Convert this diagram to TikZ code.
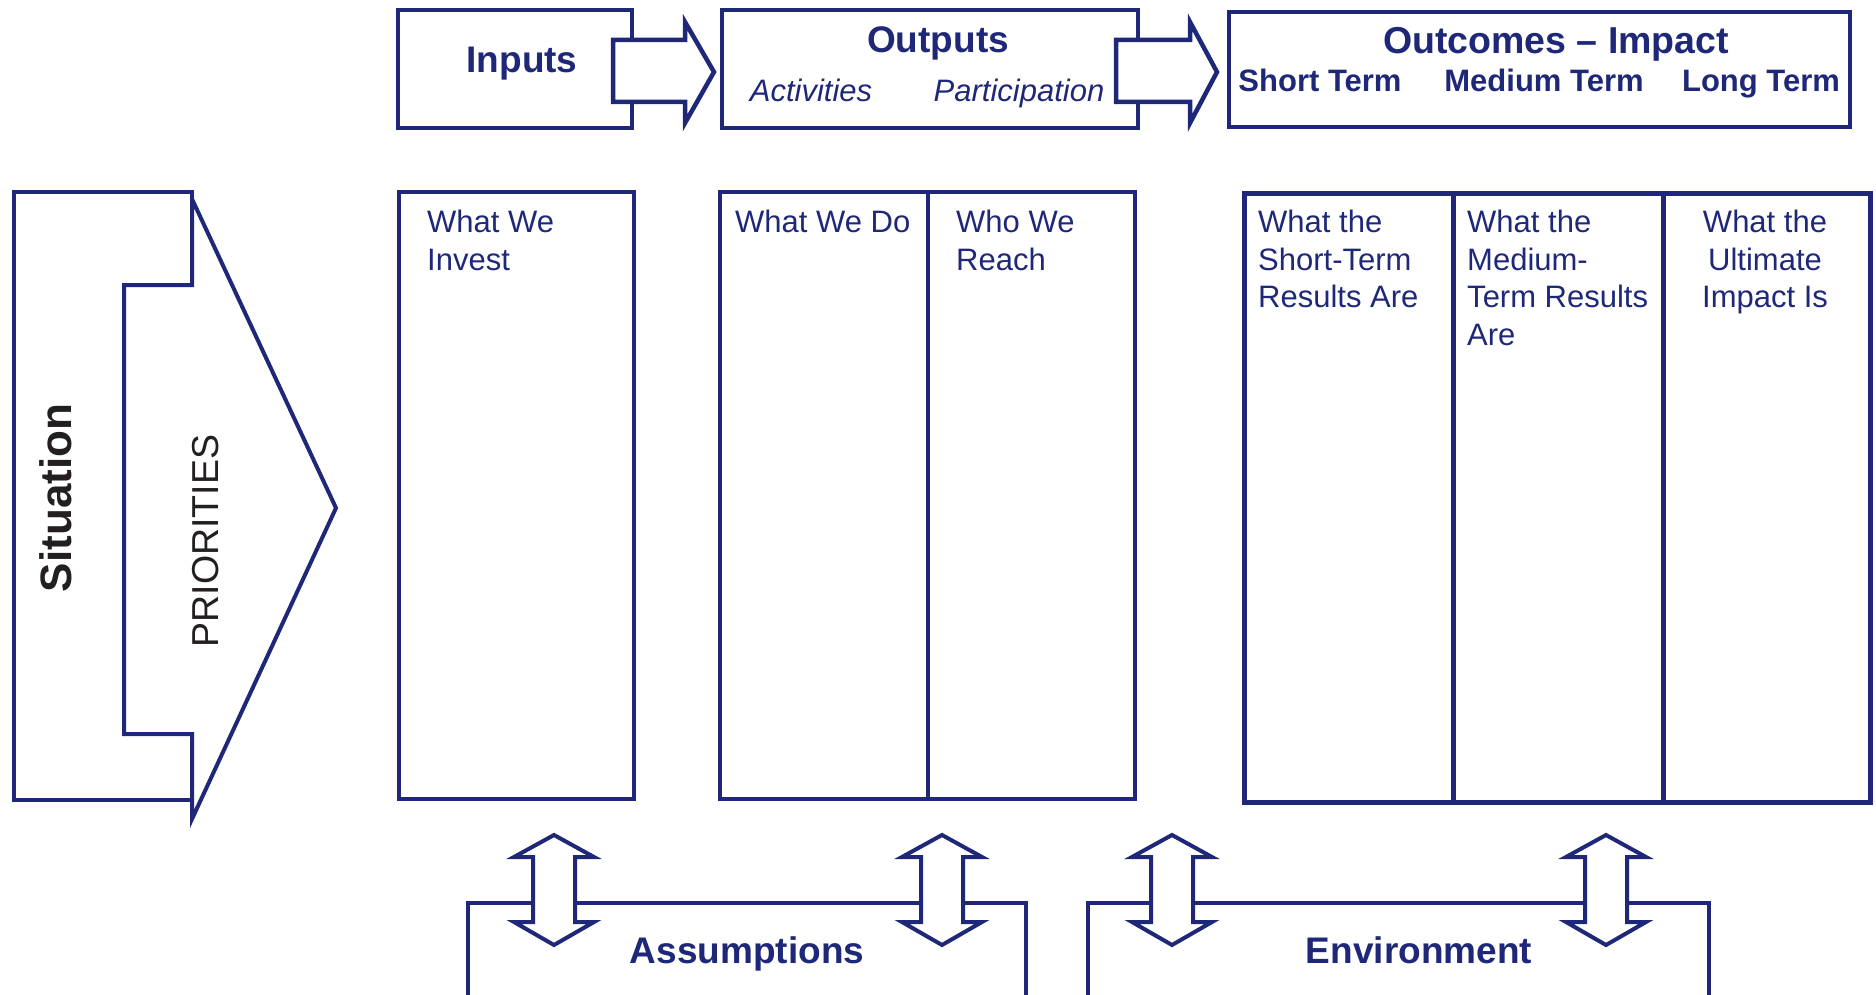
\documentclass[tikz,border=0pt]{standalone}
\usepackage{fontspec}
\setmainfont{Liberation Sans}
\definecolor{navy}{RGB}{31,40,120}
\definecolor{ink}{RGB}{35,31,32}
\begin{document}
\begin{tikzpicture}[x=1pt,y=-1pt,
  hdr/.style={draw=navy, line width=4.5pt, line join=miter},
  col/.style={draw=navy, line width=4.2pt},
  colb/.style={draw=navy, line width=5pt},
  shp/.style={draw=navy, line width=4pt, fill=white, line join=miter},
  headbig/.style={text=navy, inner sep=0pt, font=\fontsize{37}{44}\selectfont\bfseries},
  headmid/.style={text=navy, inner sep=0pt, font=\fontsize{37.5}{44}\selectfont\bfseries},
  headsub/.style={text=navy, inner sep=0pt, font=\fontsize{31}{37}\selectfont\bfseries},
  headit/.style={text=navy, inner sep=0pt, font=\fontsize{31}{37}\selectfont\itshape},
  body/.style={text=navy, inner sep=0pt, font=\fontsize{31}{37.5}\selectfont},
  sidebold/.style={text=ink, inner sep=0pt, rotate=90, font=\fontsize{44}{52}\selectfont\bfseries},
  sidereg/.style={text=ink, inner sep=0pt, rotate=90, font=\fontsize{37.5}{45}\selectfont}
]
\useasboundingbox (0,0) rectangle (1876,995);

% top header boxes
\draw[hdr] (398,10) rectangle (632,128);
\draw[hdr] (722,10) rectangle (1138,128);
\draw[hdr] (1229,12) rectangle (1850,127);
% header arrows
\draw[hdr, fill=white] (613,40) -- (685,40) -- (685,22) -- (714,72) -- (685,123) -- (685,102) -- (613,102) -- cycle;
\draw[hdr, fill=white] (1116,40) -- (1190,40) -- (1190,22) -- (1217,72) -- (1190,123) -- (1190,102) -- (1116,102) -- cycle;

\node[headbig, anchor=base] (inputs) at (522,73) {Inputs};
\node[headbig, anchor=base] (outputs) at (938,53) {Outputs};
\node[headit, anchor=base] (activities) at (811,102) {Activities};
\node[headit, anchor=base] (participation) at (1019,102) {Participation};
\node[headmid, anchor=base] (outcomes) at (1556,54) {Outcomes -- Impact};
\node[headsub, anchor=base] (shortterm) at (1320,92) {Short Term};
\node[headsub, anchor=base] (mediumterm) at (1544,92) {Medium Term};
\node[headsub, anchor=base] (longterm) at (1761,92) {Long Term};

% situation / priorities
\draw[shp] (14,192) -- (192,192) -- (192,285) -- (124,285) -- (124,734) -- (192,734) -- (192,800) -- (14,800) -- cycle;
\draw[shp] (192,199) -- (336,508) -- (192,819) -- (192,734) -- (124,734) -- (124,285) -- (192,285) -- cycle;
\node[sidebold, anchor=base] (situation) at (71,498) {Situation};
\node[sidereg, anchor=base] (priorities) at (218,541) {PRIORITIES};

% columns
\draw[col] (399,192) rectangle (634,799);
\draw[col] (720,192) rectangle (1135,799);
\draw[col] (928,192) -- (928,799);
\draw[colb] (1244,194) rectangle (1870,802);
\draw[colb] (1453,194) -- (1453,802);
\draw[colb] (1663,194) -- (1663,802);

\node[body, anchor=base west] (invest) at (427,233) {\begin{tabular}[t]{@{}l@{}}What We\\Invest\end{tabular}};
\node[body, anchor=base west] (whatwedo) at (735,233) {\begin{tabular}[t]{@{}l@{}}What We Do\end{tabular}};
\node[body, anchor=base west] (reach) at (956,233) {\begin{tabular}[t]{@{}l@{}}Who We\\Reach\end{tabular}};
\node[body, anchor=base west] (shortres) at (1258,233) {\begin{tabular}[t]{@{}l@{}}What the\\Short-Term\\Results Are\end{tabular}};
\node[body, anchor=base west] (medres) at (1467,233) {\begin{tabular}[t]{@{}l@{}}What the\\Medium-\\Term Results\\Are\end{tabular}};
\node[body, anchor=base] (impact) at (1765,233) {\begin{tabular}[t]{@{}c@{}}What the\\Ultimate\\Impact Is\end{tabular}};

% bottom boxes
\draw[col] (468,1000) -- (468,903) -- (1026,903) -- (1026,1000);
\draw[col] (1088,1000) -- (1088,903) -- (1709,903) -- (1709,1000);
\foreach \cx in {554,942,1172,1606} {
  \draw[shp] (\cx,835) -- ({\cx+40},857) -- ({\cx+21},857) -- ({\cx+21},922) -- ({\cx+40},922) -- (\cx,945)
    -- ({\cx-40},922) -- ({\cx-21},922) -- ({\cx-21},857) -- ({\cx-40},857) -- cycle;
}
\node[headbig, anchor=base] (assumptions) at (747,963) {Assumptions};
\node[headbig, anchor=base] (environment) at (1419,963) {Environment};
\end{tikzpicture}
\end{document}
